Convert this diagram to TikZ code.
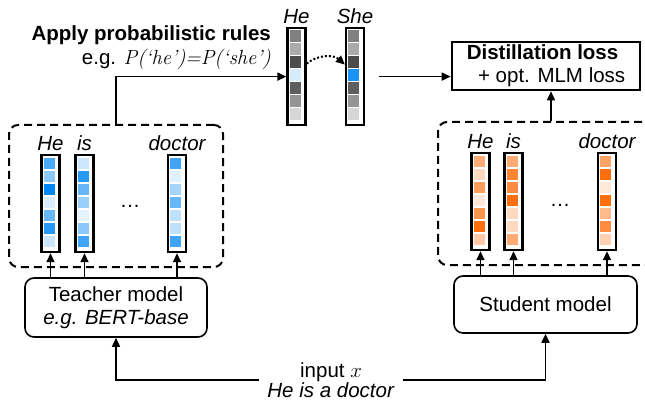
\documentclass[tikz,border=0pt]{standalone}
\usepackage{fontspec}
\setsansfont{Liberation Sans}
\renewcommand{\familydefault}{\sfdefault}
\usetikzlibrary{arrows.meta, positioning, calc}
\definecolor{my_blue}{RGB}{0, 135, 245}
\definecolor{my_orange}{RGB}{255, 102, 0}
\tikzset {
  dashbox/.style = {draw, line width=2pt, dash pattern=on 8pt off 5pt, rounded corners=9pt, rectangle},
  model/.style = {draw, line width=1.6pt, rounded corners=9pt, rectangle, align=center, inner sep=0pt},
  lossbox/.style = {draw, line width=2.6pt, rectangle, align=left, inner sep=0pt},
  vecbox/.style = {draw, line width=2.2pt, rectangle, minimum width=18pt, minimum height=97pt, anchor=north, inner sep=0pt},
  word/.style = {font=\fontsize{20.5}{23}\selectfont\itshape, inner sep=1pt},
  line/.style = {-{Triangle[length=9pt, width=8pt]}, line width=1.6pt, color=black},
  dotline/.style = {-{Triangle[length=9pt, width=8pt]}, line width=2pt, dash pattern=on 2pt off 2pt, color=black}
}
% one embedding vector: name, top centre, cell colours
\newcommand{\embvec}[3]{%
  \node[vecbox] (#1) at (#2) {};
  \foreach \lvl [count=\i from 0] in {#3} {
    \fill[\lvl] ([xshift=3.5pt, yshift={-(3.5+13*\i)*1pt}]#1.north west) rectangle ++(11,11.5);
  }
}

\begin{document}
\begin{tikzpicture}[x=1pt, y=-1pt, font=\fontsize{20.5}{23}\selectfont]
    \useasboundingbox (0,0) rectangle (645,401);
    \clip (0,0) rectangle (645,401);

    % teacher side
    \node[dashbox, minimum width=214pt, minimum height=142pt] (tbox) at (116,196) {};
    \embvec{tv1}{50.5,154}{my_blue!70, my_blue!45, my_blue!100, my_blue!15, my_blue!60, my_blue!85, my_blue!20}
    \embvec{tv2}{84.5,154}{my_blue!20, my_blue!85, my_blue!60, my_blue!40, my_blue!10, my_blue!45, my_blue!75}
    \embvec{tv3}{177,154}{my_blue!75, my_blue!12, my_blue!35, my_blue!60, my_blue!25, my_blue!25, my_blue!75}
    \node[word, above=2pt of tv1] (tw1) {He};
    \node[word, above=2pt of tv2] (tw2) {is};
    \node[word, above=2pt of tv3] (tw3) {doctor};
    \node (tdots) at (130,206) {\dots};
    \node[model, minimum width=182pt, minimum height=59pt] (teacher) at (116,307.5) {Teacher model\\\textit{e.g. BERT-base}};

    % student side
    \node[dashbox, minimum width=226pt, minimum height=143pt] (sbox) at (551,193.5) {};
    \embvec{sv1}{480.5,152}{my_orange!55, my_orange!25, my_orange!65, my_orange!15, my_orange!70, my_orange!95, my_orange!35}
    \embvec{sv2}{513.5,152}{my_orange!55, my_orange!80, my_orange!75, my_orange!95, my_orange!25, my_orange!25, my_orange!55}
    \embvec{sv3}{607,152}{my_orange!60, my_orange!95, my_orange!15, my_orange!95, my_orange!45, my_orange!75, my_orange!30}
    \node[word, above=2pt of sv1] (sw1) {He};
    \node[word, above=2pt of sv2] (sw2) {is};
    \node[word, above=2pt of sv3] (sw3) {doctor};
    \node (sdots) at (560,205) {\dots};
    \node[model, minimum width=183pt, minimum height=57pt] (student) at (545.5,304.5) {Student model};

    % probabilistic rules
    \node[anchor=east, font=\fontsize{20.5}{23}\selectfont\bfseries, inner sep=0pt] (rules) at (271,35) {Apply probabilistic rules};
    \node[anchor=east, inner sep=0pt] (example) at (271,59) {e.g. {\rmfamily\itshape P(‘he’)=P(‘she’)}};
    \embvec{heV}{296.5,27}{black!50, black!33, black!70, my_blue!16, black!63, black!42, black!16}
    \embvec{sheV}{355,27}{black!50, black!33, black!70, my_blue!90, black!63, black!42, black!16}
    \node[word, above=2pt of heV] (heW) {He};
    \node[word, above=2pt of sheV] (sheW) {She};

    \node[lossbox, minimum width=188pt, minimum height=48pt] (loss) at (546,66) {\textbf{Distillation loss}\\\hspace{0.55em}+ opt. MLM loss};

    % input
    \node[align=center, inner xsep=8pt, inner ysep=0pt] (input) at (331,380) {input $x$\\[-3pt]\textit{He is a doctor}};

    % connectors
    \foreach \n in {tv1, tv2, tv3}
        \draw[line] (\n |- teacher.north) -- (\n.south);
    \foreach \n in {sv1, sv2, sv3}
        \draw[line] (\n |- student.north) -- (\n.south);
    \draw[line] (tbox.north) |- (heV.west);
    \draw[dotline] ([yshift=13pt]heV.east) to[bend left=40] ([yshift=12pt]sheV.west);
    \draw[line, shorten <=14pt] (sheV.east) -- (sheV.east -| loss.west);
    \draw[line] (sbox.north) -- (sbox.north |- loss.south);
    \draw[line] (input.west) -| (teacher.south);
    \draw[line] (input.east) -| (student.south);

\end{tikzpicture}
\end{document}
